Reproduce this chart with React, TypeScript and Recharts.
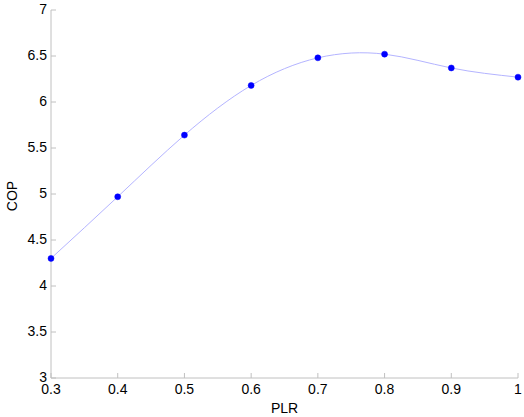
import React from 'react';
import { ComposedChart, Line, XAxis, YAxis, Label } from 'recharts';

const plr = [0.3, 0.4, 0.5, 0.6, 0.7, 0.8, 0.9, 1.0];
const cop = [4.3, 4.97, 5.64, 6.18, 6.48, 6.52, 6.37, 6.27];
const xTicks = [0.3, 0.4, 0.5, 0.6, 0.7, 0.8, 0.9, 1];
const yTicks = [3, 3.5, 4, 4.5, 5, 5.5, 6, 6.5, 7];

const data = plr.map((p, i) => ({ plr: p, cop: cop[i] }));

const AXIS = '#c0c0c0';
const FONT = 'Liberation Sans, Arial, sans-serif';

const BottomTick = (props: any) => {
  const { x, y, payload } = props;
  return (
    <g>
      <line x1={x} y1={y} x2={x} y2={y - 5} stroke={AXIS} />
      <text x={x} y={y + 16} textAnchor="middle" fontSize={14} fontFamily={FONT} fill="#000">
        {String(payload.value)}
      </text>
    </g>
  );
};
const TopTick = (props: any) => {
  const { x, y } = props;
  return <line x1={x} y1={y} x2={x} y2={y + 5} stroke={AXIS} />;
};
const LeftTick = (props: any) => {
  const { x, y, payload } = props;
  return (
    <g>
      <line x1={x} y1={y} x2={x + 5} y2={y} stroke={AXIS} />
      <text x={x - 4} y={y + 4} textAnchor="end" fontSize={14} fontFamily={FONT} fill="#000">
        {String(payload.value)}
      </text>
    </g>
  );
};
const RightTick = (props: any) => {
  const { x, y } = props;
  return <line x1={x} y1={y} x2={x - 5} y2={y} stroke={AXIS} />;
};

export default function App() {
  return (
    <div style={{ position: 'absolute', left: 0, top: 0, background: '#fff' }}>
      <ComposedChart
        width={524}
        height={417}
        data={data}
        margin={{ top: 10, right: 6, bottom: 0, left: 0 }}
      >
        <XAxis
          xAxisId="b"
          dataKey="plr"
          type="number"
          domain={[0.3, 1]}
          ticks={xTicks}
          interval={0}
          height={39}
          tickSize={0}
          tickMargin={0}
          tickLine={false}
          axisLine={{ stroke: AXIS }}
          tick={<BottomTick />}
        >
          <Label
            content={() => (
              <text x={284.5} y={413} textAnchor="middle" fontSize={14} fontFamily={FONT} fill="#000">
                PLR
              </text>
            )}
          />
        </XAxis>
        <XAxis
          xAxisId="t"
          orientation="top"
          dataKey="plr"
          type="number"
          domain={[0.3, 1]}
          ticks={xTicks}
          interval={0}
          height={0}
          tickSize={0}
          tickMargin={0}
          tickLine={false}
          axisLine={{ stroke: AXIS }}
          tick={<TopTick />}
        />
        <YAxis
          yAxisId="l"
          type="number"
          domain={[3, 7]}
          ticks={yTicks}
          interval={0}
          width={51}
          tickSize={0}
          tickMargin={0}
          tickLine={false}
          axisLine={{ stroke: AXIS }}
          tick={<LeftTick />}
        >
          <Label
            content={() => (
              <text
                x={17}
                y={196}
                transform="rotate(-90 17 196)"
                textAnchor="middle"
                fontSize={14}
                fontFamily={FONT}
                fill="#000"
              >
                COP
              </text>
            )}
          />
        </YAxis>
        <YAxis
          yAxisId="r"
          orientation="right"
          type="number"
          domain={[3, 7]}
          ticks={yTicks}
          interval={0}
          width={0}
          tickSize={0}
          tickMargin={0}
          tickLine={false}
          axisLine={{ stroke: AXIS }}
          tick={<RightTick />}
        />
        <Line
          xAxisId="b"
          yAxisId="l"
          type="natural"
          dataKey="cop"
          stroke="#b4b4ff"
          strokeWidth={1}
          dot={{ r: 3, fill: '#0000ff', stroke: '#0000ff', strokeWidth: 0.5 }}
          activeDot={false}
          isAnimationActive={false}
        />
      </ComposedChart>
    </div>
  );
}
